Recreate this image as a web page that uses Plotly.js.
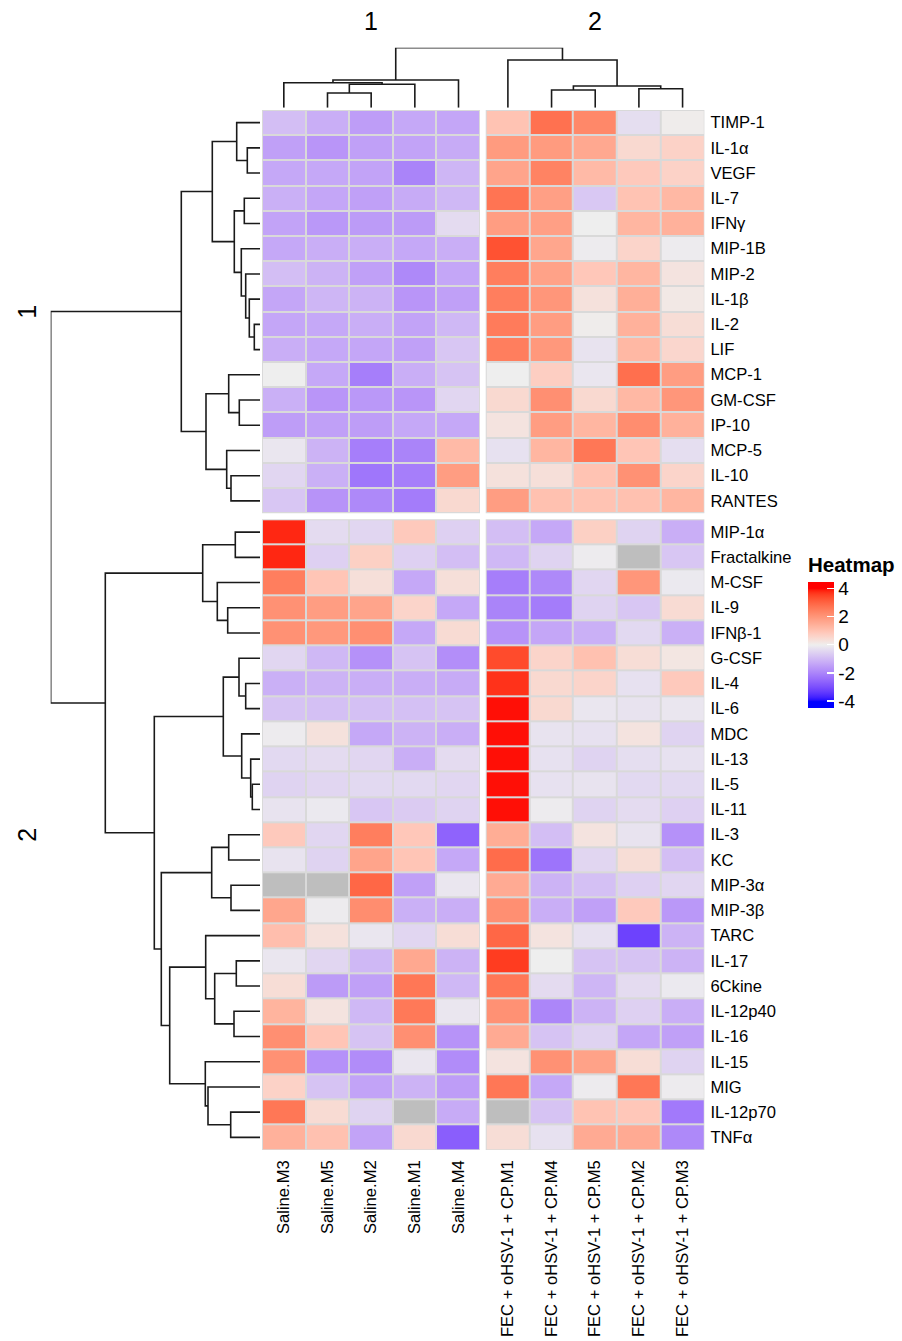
<!DOCTYPE html>
<html>
<head>
<meta charset="utf-8">
<script src="https://cdn.plot.ly/plotly-3.0.1.min.js"></script>
<style>html,body{margin:0;padding:0;background:#fff}#chart{width:902px;height:1341px}</style>
</head>
<body>
<div id="chart"></div>
<script>
// ---------------- DATA ----------------
const salineCols = ["Saline.M3", "Saline.M5", "Saline.M2", "Saline.M1", "Saline.M4"];
const fecCols = ["FEC + oHSV-1 + CP.M1", "FEC + oHSV-1 + CP.M4", "FEC + oHSV-1 + CP.M5", "FEC + oHSV-1 + CP.M2", "FEC + oHSV-1 + CP.M3"];

const topRows = ["TIMP-1", "IL-1α", "VEGF", "IL-7", "IFNγ", "MIP-1B", "MIP-2", "IL-1β", "IL-2", "LIF",
  "MCP-1", "GM-CSF", "IP-10", "MCP-5", "IL-10", "RANTES"];
const bottomRows = ["MIP-1α", "Fractalkine", "M-CSF", "IL-9", "IFNβ-1", "G-CSF", "IL-4", "IL-6", "MDC", "IL-13",
  "IL-5", "IL-11", "IL-3", "KC", "MIP-3α", "MIP-3β", "TARC", "IL-17", "6Ckine", "IL-12p40", "IL-16", "IL-15",
  "MIG", "IL-12p70", "TNFα"];

const topSaline = [
  [-0.9, -1.2, -1.5, -1.3, -1.35],
  [-1.45, -1.65, -1.45, -1.4, -1.25],
  [-1.3, -1.3, -1.4, -2.0, -1.05],
  [-1.15, -1.35, -1.45, -1.25, -1.0],
  [-1.4, -1.6, -1.55, -1.55, -0.35],
  [-1.3, -1.2, -1.2, -1.3, -1.2],
  [-0.9, -1.1, -1.45, -1.9, -1.35],
  [-1.35, -1.05, -1.1, -1.65, -1.45],
  [-1.35, -1.3, -1.2, -1.4, -1.0],
  [-1.2, -1.3, -1.35, -1.45, -0.75],
  [0, -1.3, -2.1, -1.2, -0.8],
  [-1.15, -1.65, -1.6, -1.65, -0.45],
  [-1.5, -1.45, -1.5, -1.3, -1.3],
  [-0.15, -1.1, -2.1, -2.0, 1.2],
  [-0.45, -1.15, -2.25, -2.1, 1.85],
  [-0.75, -1.7, -1.9, -2.15, 0.5]
];
const topFEC = [
  [1.0, 2.75, 2.3, -0.3, 0.05],
  [1.9, 1.9, 1.6, 0.5, 0.65],
  [1.7, 2.4, 1.2, 0.85, 0.65],
  [2.7, 1.8, -0.7, 1.0, 1.25],
  [1.85, 1.8, 0, 1.3, 1.4],
  [3.3, 1.65, -0.05, 0.6, -0.05],
  [2.5, 1.75, 0.9, 1.3, 0.25],
  [2.5, 2.0, 0.3, 1.45, 0.15],
  [2.55, 1.85, 0.05, 1.4, 0.4],
  [2.5, 1.95, -0.2, 1.25, 0.55],
  [0, 0.75, -0.15, 2.8, 1.85],
  [0.5, 2.15, 0.5, 1.25, 2.0],
  [0.25, 1.85, 1.3, 2.2, 1.4],
  [-0.25, 1.3, 2.65, 0.95, -0.3],
  [0.3, 0.35, 1.0, 2.1, 0.6],
  [1.85, 1.05, 1.0, 1.05, 1.3]
];
const bottomSaline = [
  [3.8, -0.35, -0.45, 0.85, -0.55],
  [3.8, -0.55, 0.7, -0.55, -0.9],
  [2.5, 0.95, 0.35, -1.3, 0.35],
  [2.1, 1.85, 1.7, 0.6, -1.3],
  [2.1, 1.95, 2.15, -1.3, 0.45],
  [-0.45, -1.0, -1.75, -0.8, -1.8],
  [-1.15, -1.1, -1.2, -1.2, -1.25],
  [-0.8, -0.85, -0.85, -0.85, -0.8],
  [-0.05, 0.3, -1.3, -1.1, -1.2],
  [-0.4, -0.35, -0.45, -1.2, -0.35],
  [-0.5, -0.45, -0.4, -0.4, -0.45],
  [-0.2, -0.1, -0.75, -0.65, -0.5],
  [0.85, -0.45, 2.5, 0.9, -2.6],
  [-0.2, -0.5, 1.7, 0.95, -1.3],
  [null, null, 2.95, -1.45, -0.15],
  [1.65, -0.05, 2.2, -1.15, -1.2],
  [1.1, 0.3, -0.15, -0.45, 0.4],
  [-0.15, -0.45, -1.0, 1.6, -1.1],
  [0.4, -1.55, -1.45, 2.65, -1.0],
  [1.35, 0.25, -1.0, 2.6, -0.15],
  [2.15, 0.95, -0.8, 2.15, -1.7],
  [2.1, -1.75, -1.85, -0.15, -1.85],
  [0.65, -0.8, -1.4, -1.1, -1.5],
  [2.65, 0.45, -0.5, null, -1.25],
  [1.4, 1.05, -1.4, 0.5, -2.7]
];
const bottomFEC = [
  [-0.9, -1.3, 0.7, -0.5, -1.2],
  [-1.0, -0.5, -0.05, null, -0.75],
  [-2.1, -1.9, -0.45, 2.0, -0.1],
  [-2.0, -2.15, -0.5, -0.75, 0.45],
  [-1.7, -1.35, -1.15, -0.4, -1.15],
  [3.4, 0.6, 1.05, 0.4, 0.2],
  [3.7, 0.5, 0.6, -0.25, 0.85],
  [3.95, 0.5, -0.15, -0.2, -0.15],
  [3.95, -0.2, -0.25, 0.25, -0.5],
  [3.95, -0.25, -0.5, -0.3, -0.25],
  [3.95, -0.25, -0.2, -0.4, -0.4],
  [3.95, -0.05, -0.5, -0.35, -0.55],
  [1.5, -0.9, 0.25, -0.2, -1.75],
  [2.85, -2.3, -0.45, 0.4, -0.9],
  [1.55, -1.1, -0.85, -0.55, -0.45],
  [2.15, -1.2, -1.45, 0.85, -1.6],
  [2.95, 0.25, -0.25, -3.2, -1.1],
  [3.6, 0, -0.8, -0.8, -1.1],
  [2.65, -0.35, -1.05, -0.35, -0.1],
  [2.1, -1.95, -1.1, -0.55, -1.2],
  [1.55, -0.8, -0.5, -1.35, -1.45],
  [0.25, 2.1, 1.75, 0.4, -0.5],
  [2.65, -1.3, -0.05, 2.65, -0.05],
  [null, -0.8, 1.0, 0.9, -2.2],
  [0.4, -0.25, 1.55, 1.55, -1.9]
];

// Dendrograms: merges [childA, childB, height]; numbers = leaves (display order), "mK" = K-th merge
const colMerges = [
  [1, 2, 14.7], ["m0", 3, 23.4], [0, "m1", 25], ["m2", 4, 27.7],
  [6, 7, 17.7], [8, 9, 19], ["m4", "m5", 21.7], [5, "m6", 47.7],
  ["m3", "m7", 60]
];
const rowMerges = [
  [1, 2, 12.7], [0, "m0", 23.3], [3, 4, 15.7], [8, 9, 5.7], [7, "m3", 10.7],
  [6, "m4", 14.3], [5, "m5", 18.7], ["m2", "m6", 25.7], ["m1", "m7", 47.7],
  [11, 12, 20.7], [10, "m9", 31.3], [14, 15, 29], [13, "m11", 33.3],
  ["m10", "m12", 54], ["m8", "m13", 78.7],
  [16, 17, 24.7], [19, 20, 32.3], [18, "m16", 42.7], ["m15", "m17", 57.3],
  [22, 23, 14.3], [21, "m19", 21], [26, 27, 7.7], [25, "m21", 9.3], [24, "m22", 18.3],
  ["m20", "m23", 36.7], [28, 29, 31.3], [30, 31, 29], ["m25", "m26", 48.3],
  [33, 34, 23.7], [35, 36, 26], ["m28", "m29", 45.3], [32, "m30", 54.3],
  [39, 40, 29.3], [38, "m32", 52], [37, "m33", 54.7], ["m31", "m34", 90.3],
  ["m27", "m35", 98.7], ["m24", "m36", 105.7], ["m18", "m37", 154.7],
  ["m14", "m38", 209.3]
];

// ---------------- HELPERS ----------------
const W = 902, H = 1341;
const FONT = "Liberation Sans, Arial, Helvetica, sans-serif";
function fx(px) { return px / W; }
function fy(py) { return 1 - py / H; }

// LAB colour interpolation (like colorRamp2 in ComplexHeatmap)
function lin(c) { c /= 255; return c <= 0.04045 ? c / 12.92 : Math.pow((c + 0.055) / 1.055, 2.4); }
function gam(c) { c = Math.max(0, Math.min(1, c)); return c <= 0.0031308 ? 12.92 * c : 1.055 * Math.pow(c, 1 / 2.4) - 0.055; }
const WX = 0.95047, WY = 1, WZ = 1.08883;
function f(t) { return t > 216 / 24389 ? Math.cbrt(t) : (24389 / 27 * t + 16) / 116; }
function fi(t) { return t * t * t > 216 / 24389 ? t * t * t : (116 * t - 16) / (24389 / 27); }
function rgb2lab(c) {
  const r = lin(c[0]), g = lin(c[1]), b = lin(c[2]);
  const X = 0.4124 * r + 0.3576 * g + 0.1805 * b, Y = 0.2126 * r + 0.7152 * g + 0.0722 * b, Z = 0.0193 * r + 0.1192 * g + 0.9505 * b;
  const x = f(X / WX), y = f(Y / WY), z = f(Z / WZ);
  return [116 * y - 16, 500 * (x - y), 200 * (y - z)];
}
function lab2rgb(l) {
  const y = (l[0] + 16) / 116, x = y + l[1] / 500, z = y - l[2] / 200;
  const X = WX * fi(x), Y = WY * fi(y), Z = WZ * fi(z);
  const r = 3.2406 * X - 1.5372 * Y - 0.4986 * Z, g = -0.9689 * X + 1.8758 * Y + 0.0415 * Z, b = 0.0557 * X - 0.2040 * Y + 1.0570 * Z;
  return [gam(r), gam(g), gam(b)].map(v => Math.round(v * 255));
}
const labBlue = rgb2lab([0, 0, 255]), labMid = rgb2lab([238, 238, 238]), labRed = rgb2lab([255, 0, 0]);
function colorAt(v) {
  v = Math.max(-4, Math.min(4, v));
  const t = Math.abs(v) / 4, end = v < 0 ? labBlue : labRed;
  const l = [0, 1, 2].map(i => labMid[i] + (end[i] - labMid[i]) * t);
  const c = lab2rgb(l);
  return "rgb(" + c.join(",") + ")";
}
const CMIN = -4.47, CMAX = 4.47;
const colorscale = [];
for (let i = 0; i <= 60; i++) {
  const v = CMIN + (CMAX - CMIN) * i / 60;
  colorscale.push([i / 60, colorAt(v)]);
}

// geometry (pixels)
const LX0 = 262, LX1 = 480, RX0 = 485.7, RX1 = 704.4;
const TY0 = 110, TY1 = 513.3, BY0 = 519.3, BY1 = 1150;
const colGap = (RX0 - LX1) / ((LX1 - LX0) / 5);
const rowGap = (BY0 - TY1) / ((TY1 - TY0) / 16);

const GAP = 2;
const traces = [];
function idx(n) { return Array.from({ length: n }, (_, i) => i); }
function addBlock(z, xa, ya, showscale) {
  const n = z.length;
  traces.push({
    type: "heatmap", z: z, x: idx(5), y: idx(n), xaxis: xa, yaxis: ya,
    zmin: CMIN, zmax: CMAX, colorscale: colorscale, xgap: GAP, ygap: GAP,
    hoverinfo: "skip", showscale: showscale,
    colorbar: showscale ? {
      x: fx(808), xanchor: "left", y: fy(707.7), yanchor: "bottom",
      len: 154, lenmode: "pixels", thickness: 26, thicknessmode: "pixels",
      outlinewidth: 0, xpad: 0, ypad: 0,
      tickvals: [-4, -2, 0, 2, 4], ticktext: ["-4", "-2", "0", "2", "4"],
      ticks: "inside", tickcolor: "white", ticklen: 7, tickwidth: 1.5,
      tickfont: { family: FONT, size: 19, color: "#000" },
      title: { text: "Heatmap", side: "top", font: { family: FONT, size: 20.5, color: "#000", weight: "bold" } }
    } : undefined
  });
  // NA cells
  const na = z.map(r => r.map(v => (v === null ? 1 : null)));
  if (na.some(r => r.some(v => v !== null))) {
    traces.push({
      type: "heatmap", z: na, x: idx(5), y: idx(n), xaxis: xa, yaxis: ya,
      zmin: 0, zmax: 1, colorscale: [[0, "#BEBEBE"], [1, "#BEBEBE"]],
      xgap: GAP, ygap: GAP, hoverinfo: "skip", showscale: false
    });
  }
}
addBlock(topSaline, "x", "y", true);
addBlock(topFEC, "x2", "y", false);
addBlock(bottomSaline, "x", "y2", false);
addBlock(bottomFEC, "x2", "y2", false);

// dendrogram lines
function dendroSegments(merges, leafPos) {
  const nodes = [];
  const get = k => (typeof k === "number" ? { p: leafPos(k), h: 0 } : nodes[parseInt(k.slice(1))]);
  const P = [], Hh = [];
  merges.forEach(m => {
    const a = get(m[0]), b = get(m[1]), h = m[2];
    P.push(a.p, a.p, b.p, b.p, null);
    Hh.push(a.h, h, h, b.h, null);
    nodes.push({ p: (a.p + b.p) / 2, h: h });
  });
  return { P, Hh };
}
const cd = dendroSegments(colMerges, i => i + (i >= salineCols.length ? colGap : 0));
traces.push({ type: "scatter", mode: "lines", x: cd.P, y: cd.Hh, xaxis: "x3", yaxis: "y3",
  line: { color: "#1a1a1a", width: 1.6 }, hoverinfo: "skip", showlegend: false });
const rd = dendroSegments(rowMerges, i => i + (i >= topRows.length ? rowGap : 0));
traces.push({ type: "scatter", mode: "lines", x: rd.Hh, y: rd.P, xaxis: "x4", yaxis: "y4",
  line: { color: "#1a1a1a", width: 1.6 }, hoverinfo: "skip", showlegend: false });

const colMax = Math.max(...colMerges.map(m => m[2]));
const rowMax = Math.max(...rowMerges.map(m => m[2]));

const tickFont = { family: FONT, size: 16.6, color: "#000" };
const hx = (dom, ticktext) => ({
  domain: dom, range: [-0.5, 4.5], anchor: "y2", tickvals: idx(5), ticktext: ticktext,
  tickangle: -90, ticks: "", showgrid: false, zeroline: false, showline: false,
  tickfont: tickFont, ticklabelstandoff: 6, fixedrange: true
});
const hy = (dom, n, ticktext) => ({
  domain: dom, range: [n - 0.5, -0.5], anchor: "x2", side: "right", tickvals: idx(n), ticktext: ticktext,
  ticks: "", showgrid: false, zeroline: false, showline: false, tickfont: tickFont,
  ticklabelstandoff: 5, fixedrange: true
});
const hidden = { visible: false, showgrid: false, zeroline: false, fixedrange: true };

// grey underlays for cell borders
const shapes = [];
function under(xr, yr, n) {
  shapes.push({ type: "rect", xref: xr, yref: yr, layer: "below", x0: -0.53, x1: 4.53, y0: -0.55, y1: n - 0.45,
    fillcolor: "#D9D9D9", line: { width: 0 } });
}
under("x", "y", topRows.length); under("x2", "y", topRows.length);
under("x", "y2", bottomRows.length); under("x2", "y2", bottomRows.length);

const annFont = { family: FONT, size: 25, color: "#000" };
const annotations = [
  { text: "1", xref: "paper", yref: "paper", x: fx((LX0 + LX1) / 2), y: fy(21), showarrow: false, font: annFont, xanchor: "center", yanchor: "middle" },
  { text: "2", xref: "paper", yref: "paper", x: fx((RX0 + RX1) / 2), y: fy(21), showarrow: false, font: annFont, xanchor: "center", yanchor: "middle" },
  { text: "1", xref: "paper", yref: "paper", x: fx(27), y: fy((TY0 + TY1) / 2), textangle: -90, showarrow: false, font: annFont, xanchor: "center", yanchor: "middle" },
  { text: "2", xref: "paper", yref: "paper", x: fx(27), y: fy((BY0 + BY1) / 2), textangle: -90, showarrow: false, font: annFont, xanchor: "center", yanchor: "middle" }
];

const layout = {
  width: W, height: H, margin: { l: 0, r: 0, t: 0, b: 0 },
  paper_bgcolor: "#fff", plot_bgcolor: "rgba(0,0,0,0)",
  font: { family: FONT, color: "#000" }, showlegend: false, hovermode: false,
  xaxis: hx([fx(LX0), fx(LX1)], salineCols),
  xaxis2: hx([fx(RX0), fx(RX1)], fecCols),
  yaxis: hy([fy(TY1), fy(TY0)], topRows.length, topRows),
  yaxis2: hy([fy(BY1), fy(BY0)], bottomRows.length, bottomRows),
  xaxis3: Object.assign({}, hidden, { domain: [fx(LX0), fx(RX1)], range: [-0.5, 9.5 + colGap], anchor: "y3" }),
  yaxis3: Object.assign({}, hidden, { domain: [fy(107.7), fy(47.7)], range: [0, colMax], anchor: "x3" }),
  xaxis4: Object.assign({}, hidden, { domain: [fx(50.7), fx(260)], range: [rowMax, 0], anchor: "y4" }),
  yaxis4: Object.assign({}, hidden, { domain: [fy(BY1), fy(TY0)], range: [40.5 + rowGap, -0.5], anchor: "x4" }),
  shapes: shapes, annotations: annotations
};

Plotly.newPlot("chart", traces, layout, { staticPlot: true, displayModeBar: false });
</script>
</body>
</html>
